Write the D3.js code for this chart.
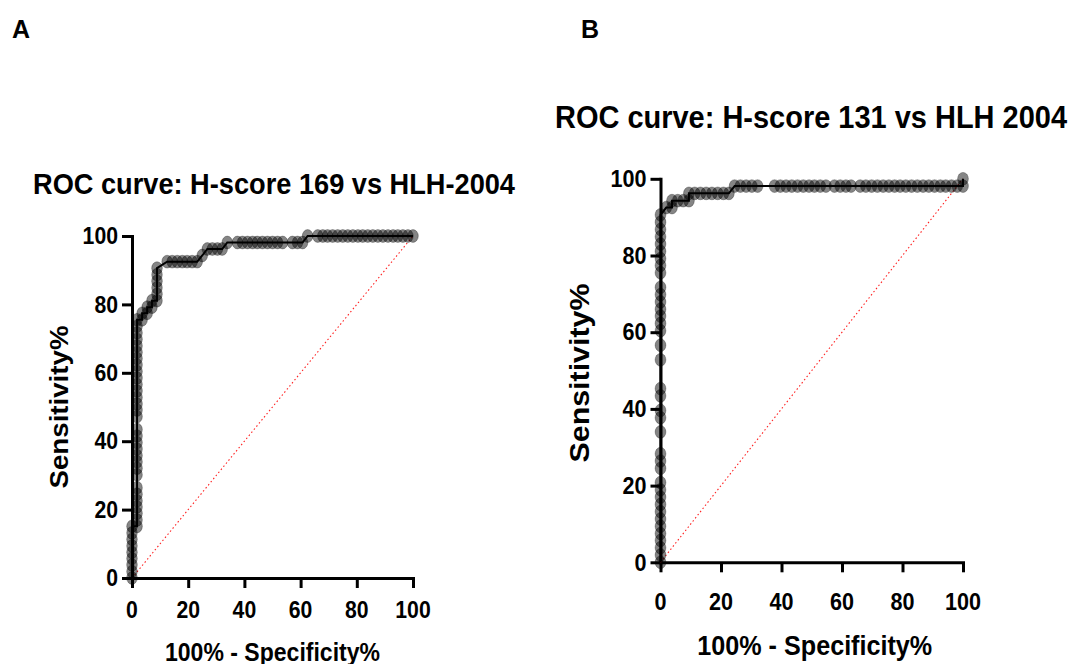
<!DOCTYPE html>
<html><head><meta charset="utf-8">
<script src="https://cdn.jsdelivr.net/npm/d3@7"></script>
<style>body{margin:0;background:#fff}svg{display:block}</style>
</head><body>
<svg id="c" width="1073" height="664"></svg>
<script>
// ---------- data ----------
const tickValues = [0, 20, 40, 60, 80, 100];
const panelLabels = ["A", "B"];
const titleA = "ROC curve: H-score 169 vs HLH-2004";
const titleB = "ROC curve: H-score 131 vs HLH 2004";
const xTitle = "100% - Specificity%";
const yTitle = "Sensitivity%";

// Panel A: 100% - Specificity% (x) and Sensitivity% (y) of each threshold point
const aFpr = [
  0,0,0,0,0,0,0,0,0,
  1.8,1.8,1.8,1.8,1.8,1.8,1.8,1.8,1.8,1.8,1.8,1.8,1.8,1.8,1.8,1.8,1.8,1.8,1.8,1.8,1.8,1.8,1.8,1.8,1.8,1.8,1.8,1.8,1.8,1.8,1.8,
  3.6,3.6,5.4,5.4,7.1,7.1,8.9,8.9,8.9,8.9,8.9,8.9,
  12.5,14.3,16.1,17.9,19.6,21.4,23.2,
  25.0,26.8,28.6,30.4,32.1,33.9,
  37.5,39.3,41.1,42.9,44.6,46.4,48.2,50.0,51.8,53.6,
  57.1,58.9,60.7,62.5,
  66.1,67.9,69.6,71.4,73.2,75.0,76.8,78.6,80.4,82.1,83.9,85.7,87.5,89.3,91.1,92.9,94.6,96.4,98.2,100
];
const aSens = [
  0,1.9,3.8,5.7,7.5,9.4,11.3,13.2,15.1,
  15.1,17.0,18.9,20.8,22.6,24.5,26.4,30.2,32.1,34.0,35.8,37.7,39.6,41.5,43.4,47.2,49.1,50.9,52.8,54.7,56.6,58.5,60.4,62.3,64.2,66.0,67.9,69.8,71.7,73.6,75.5,
  75.5,77.4,77.4,79.2,79.2,81.1,81.1,83.0,84.9,86.8,88.7,90.6,
  92.5,92.5,92.5,92.5,92.5,92.5,92.5,
  94.3,96.2,96.2,96.2,96.2,98.1,
  98.1,98.1,98.1,98.1,98.1,98.1,98.1,98.1,98.1,98.1,
  98.1,98.1,98.1,100,
  100,100,100,100,100,100,100,100,100,100,100,100,100,100,100,100,100,100,100,100
];

// Panel B
const bFpr = [
  0,0,0,0,0,0,0,0,0,0,0,0,0,0,0,0,0,0,0,0,0,0,0,0,0,0,0,0,0,0,0,0,0,0,0,0,0,0,
  1.9,3.8,3.8,5.7,7.5,9.4,9.4,
  11.3,13.2,15.1,17.0,18.9,20.8,22.6,
  24.5,26.4,28.3,30.2,32.1,
  37.7,39.6,41.5,43.4,45.3,47.2,49.1,50.9,52.8,54.7,
  57.5,59.4,61.3,63.0,
  66.0,67.9,69.8,71.7,73.6,75.5,77.4,79.2,81.1,83.0,84.9,86.8,88.7,90.6,92.5,94.3,96.2,98.1,100,100
];
const bSens = [
  0,1.9,3.8,5.7,7.5,9.4,11.3,13.2,15.1,17.0,18.9,20.8,24.5,26.4,28.3,34.0,37.7,39.6,43.4,45.3,52.8,56.6,60.4,62.3,64.2,66.0,67.9,69.8,71.7,75.5,77.4,79.2,81.1,83.0,84.9,86.8,88.7,90.6,
  92.5,92.5,94.3,94.3,94.3,94.3,96.2,
  96.2,96.2,96.2,96.2,96.2,96.2,96.2,
  98.1,98.1,98.1,98.1,98.1,
  98.1,98.1,98.1,98.1,98.1,98.1,98.1,98.1,98.1,98.1,
  98.1,98.1,98.1,98.1,
  98.1,98.1,98.1,98.1,98.1,98.1,98.1,98.1,98.1,98.1,98.1,98.1,98.1,98.1,98.1,98.1,98.1,98.1,98.1,100
];

// ---------- drawing ----------
const svg = d3.select("#c");
const FONT = "'Liberation Sans', Arial, Helvetica, sans-serif";

function txt(str, x, y, size, anchor, opts = {}) {
  const t = svg.append("text")
    .attr("x", x).attr("y", y)
    .attr("font-family", FONT)
    .attr("font-weight", "bold")
    .attr("font-size", size)
    .attr("text-anchor", anchor)
    .attr("fill", "#000")
    .text(str);
  if (opts.width) t.attr("textLength", opts.width).attr("lengthAdjust", "spacingAndGlyphs");
  if (opts.rotate) t.attr("transform", `rotate(-90,${x},${y})`);
  return t;
}

function panel(cfg) {
  const x = d3.scaleLinear().domain([0, 100]).range(cfg.xr);
  const y = d3.scaleLinear().domain([0, 100]).range(cfg.yr);
  const pts = cfg.fpr.map((f, i) => [f, cfg.sens[i]]);

  // axes
  const gx = svg.append("g").attr("transform", `translate(0,${cfg.yr[0]})`)
    .call(d3.axisBottom(x).tickValues(tickValues).tickSize(10).tickSizeOuter(0).tickFormat(""));
  const gy = svg.append("g").attr("transform", `translate(${cfg.xr[0]},0)`)
    .call(d3.axisLeft(y).tickValues(tickValues).tickSize(10).tickSizeOuter(0).tickFormat(""));
  [gx, gy].forEach(g => {
    g.select(".domain").attr("stroke", "#000").attr("stroke-width", 3).attr("stroke-linecap", "square");
    g.selectAll(".tick line").attr("stroke", "#000").attr("stroke-width", 3);
  });

  // tick labels
  tickValues.forEach(v => {
    txt(String(v), x(v), cfg.yr[0] + cfg.xLabDy, cfg.tickSize, "middle", {width: cfg.tickW * String(v).length});
    txt(String(v), cfg.xr[0] - 14, y(v) + cfg.tickSize * 0.36, cfg.tickSize, "end", {width: cfg.tickW * String(v).length});
  });

  // reference diagonal
  svg.append("line")
    .attr("x1", x(0)).attr("y1", y(0)).attr("x2", x(100)).attr("y2", y(100))
    .attr("stroke", "#ff2020").attr("stroke-width", 1.1).attr("stroke-dasharray", "1.5,2.5");

  // points
  svg.append("g").selectAll("ellipse").data(pts).join("ellipse")
    .attr("cx", d => x(d[0])).attr("cy", d => y(d[1]))
    .attr("rx", cfg.rx).attr("ry", cfg.ry)
    .attr("fill", "rgba(0,0,0,0.48)")
    .attr("stroke", "rgba(0,0,0,0.35)").attr("stroke-width", 0.8);

  // curve
  svg.append("path").datum(pts)
    .attr("d", d3.line().x(d => x(d[0])).y(d => y(d[1])))
    .attr("fill", "none").attr("stroke", "#000").attr("stroke-width", 2);

  // titles
  txt(cfg.title, cfg.titleX, cfg.titleY, cfg.titleSize, "middle", {width: cfg.titleW});
  txt(xTitle, (cfg.xr[0] + cfg.xr[1]) / 2 + cfg.xtDx, cfg.xtY, cfg.axisTitleSize, "middle", {width: cfg.xtW});
  txt(yTitle, cfg.ytX, cfg.ytY, cfg.axisTitleSize, "middle", {width: cfg.ytW, rotate: true});
}

panel({
  fpr: aFpr, sens: aSens,
  xr: [132, 413], yr: [578, 236],
  tickSize: 23, tickW: 11.8, xLabDy: 40,
  rx: 5.3, ry: 6.4,
  title: titleA, titleX: 274, titleY: 194, titleSize: 30, titleW: 482,
  axisTitleSize: 25, xtDx: 0, xtY: 661, xtW: 215,
  ytX: 68, ytY: 407, ytW: 163
});

panel({
  fpr: bFpr, sens: bSens,
  xr: [660.5, 963], yr: [562.3, 178.8],
  tickSize: 23, tickW: 12, xLabDy: 48,
  rx: 5.4, ry: 6.4,
  title: titleB, titleX: 811, titleY: 128, titleSize: 32, titleW: 512,
  axisTitleSize: 27, xtDx: 3, xtY: 655, xtW: 235,
  ytX: 589, ytY: 373, ytW: 179
});

txt(panelLabels[0], 21, 38, 25, "middle");
txt(panelLabels[1], 590, 38, 25, "middle");
</script>
</body></html>
